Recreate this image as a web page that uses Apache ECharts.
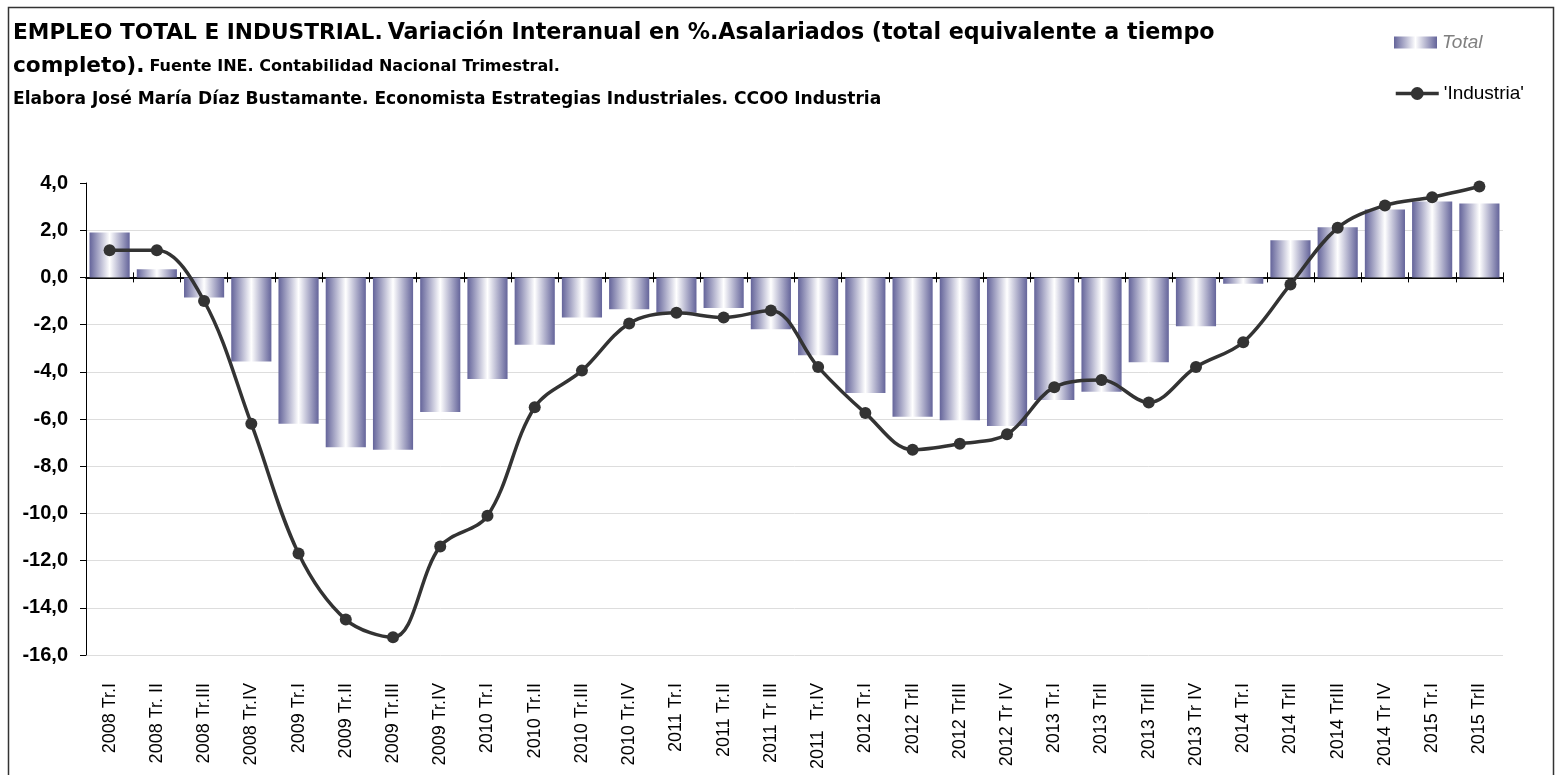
<!DOCTYPE html>
<html>
<head>
<meta charset="utf-8">
<script src="https://cdn.jsdelivr.net/npm/echarts@6/dist/echarts.min.js"></script>
<style>
html,body{margin:0;padding:0;background:#fff;}
#chart{width:1559px;height:775px;}
</style>
</head>
<body>
<div id="chart"></div>
<script>
const categories = ['2008 Tr.I','2008 Tr. II','2008 Tr.III','2008 Tr.IV','2009 Tr.I','2009 Tr.II','2009 Tr.III','2009 Tr.IV','2010 Tr.I','2010 Tr.II','2010 Tr.III','2010 Tr.IV','2011 Tr.I','2011 Tr.II','2011 Tr III','2011  Tr.IV','2012 Tr.I','2012 TrII','2012 TrIII','2012 Tr IV','2013 Tr.I','2013 TrII','2013 TrIII','2013 Tr IV','2014 Tr.I','2014 TrII','2014 TrIII','2014 Tr IV','2015 Tr.I','2015 TrII'];
const totalValues = [1.9,0.35,-0.85,-3.56,-6.2,-7.2,-7.3,-5.7,-4.3,-2.85,-1.7,-1.35,-1.5,-1.3,-2.2,-3.3,-4.9,-5.9,-6.05,-6.3,-5.2,-4.85,-3.6,-2.07,-0.27,1.57,2.12,2.88,3.22,3.13];
const industriaValues = [1.15,1.15,-1.0,-6.2,-11.7,-14.5,-15.25,-11.4,-10.1,-5.5,-3.95,-1.95,-1.5,-1.7,-1.4,-3.8,-5.75,-7.3,-7.05,-6.65,-4.65,-4.35,-5.3,-3.8,-2.75,-0.3,2.1,3.05,3.4,3.85];
const yMin = -16, yMax = 4, yStep = 2;

const chart = echarts.init(document.getElementById('chart'));
const barGrad = new echarts.graphic.LinearGradient(0,0,1,0,[
  {offset:0,color:'#64649a'},{offset:0.5,color:'#ffffff'},{offset:1,color:'#64649a'}
]);
const option = {
  backgroundColor:'#fff',
  animation:false,
  title:{
    left:8, top:12,
    text:'{a|EMPLEO TOTAL E INDUSTRIAL.} {b|Variación Interanual en %.Asalariados (total equivalente a tiempo}\n{a|completo).} {c|Fuente INE. Contabilidad Nacional Trimestral.}\n{d|Elabora José María Díaz Bustamante. Economista Estrategias Industriales. CCOO Industria}',
    textStyle:{
      rich:{
        a:{fontFamily:'DejaVu Sans',fontWeight:'bold',fontSize:21.7,color:'#000',lineHeight:33},
        b:{fontFamily:'DejaVu Sans',fontWeight:'bold',fontSize:22.2,color:'#000',lineHeight:33},
        c:{fontFamily:'DejaVu Sans',fontWeight:'bold',fontSize:16,color:'#000',lineHeight:33},
        d:{fontFamily:'DejaVu Sans',fontWeight:'bold',fontSize:17.1,color:'#000',lineHeight:33}
      }
    }
  },
  legend:[
    {left:1389, top:28, icon:'rect', itemWidth:43, itemHeight:12, itemGap:6, data:['Total'],
     textStyle:{fontFamily:'Liberation Sans',fontSize:19,fontStyle:'italic',color:'#808080'}},
    {left:1389, top:79, itemWidth:43, itemHeight:16, itemGap:4, data:["'Industria'"],
     lineStyle:{width:3.5, color:'#333333'},
     textStyle:{fontFamily:'Liberation Sans',fontSize:19,color:'#000'}}
  ],
  grid:{left:86, right:56, top:183, bottom:120, containLabel:false, outerBoundsMode:'none'},
  xAxis:[
    {type:'category', data:categories, position:'bottom',
     axisLine:{show:false, onZero:false}, axisTick:{show:false},
     axisLabel:{interval:0, rotate:90, margin:28, fontFamily:'Liberation Sans', fontSize:18, color:'#000'}},
    {type:'category', data:categories, position:'bottom',
     axisLine:{show:true, onZero:true, onZeroAxisIndex:0, lineStyle:{color:'#000',width:1.5}},
     axisTick:{show:true, interval:0, length:5, lineStyle:{color:'#000'}},
     axisLabel:{show:false}},
    {type:'category', data:categories, position:'bottom',
     axisLine:{show:true, onZero:true, onZeroAxisIndex:1, lineStyle:{color:'#000',width:1.5}},
     axisTick:{show:true, inside:true, interval:0, length:5, lineStyle:{color:'#000'}},
     axisLabel:{show:false}}
  ],
  yAxis:[
    {type:'value', min:yMin, max:yMax, interval:yStep,
     axisLine:{show:true, lineStyle:{color:'#000', width:1}},
     axisTick:{show:true, length:6, lineStyle:{color:'#000'}},
     axisLabel:{margin:18, fontFamily:'Liberation Sans', fontWeight:'bold', fontSize:20, color:'#000',
       formatter:v=>v.toFixed(1).replace('.',',')},
     splitLine:{show:true, showMaxLine:false, lineStyle:{color:'#dddddd', width:1}}},
    {type:'value', min:yMin, max:yMax, interval:yStep, position:'left',
     axisLine:{show:false}, axisTick:{show:false}, axisLabel:{show:false}, splitLine:{show:false}}
  ],
  series:[
    {name:'Total', type:'bar', xAxisIndex:0, yAxisIndex:0, data:totalValues, barWidth:'85%',
     itemStyle:{color:barGrad}},
    {name:"'Industria'", type:'line', xAxisIndex:0, yAxisIndex:0, data:industriaValues, smooth:0.35,
     symbol:'circle', symbolSize:12, z:5,
     lineStyle:{color:'#333333', width:3.5}, itemStyle:{color:'#333333'}}
  ],
  graphic:[
    {type:'rect', shape:{x:8.5,y:7.5,width:1545,height:820}, style:{fill:'none',stroke:'#333',lineWidth:1.5}, silent:true}
  ]
};
chart.setOption(option);
</script>
</body>
</html>
